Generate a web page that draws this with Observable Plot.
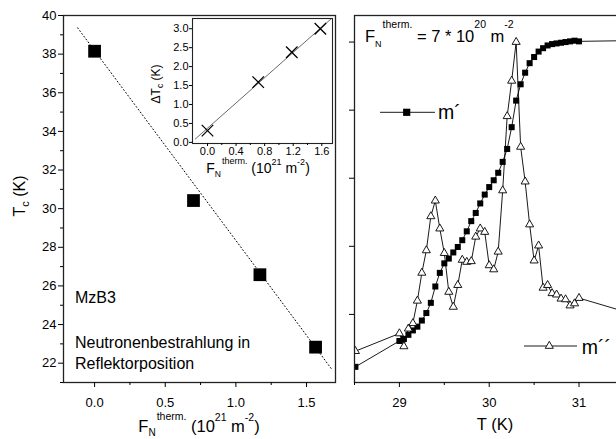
<!DOCTYPE html>
<html>
<head>
<meta charset="utf-8">
<script src="https://cdn.jsdelivr.net/npm/d3@7"></script>
<script src="https://cdn.jsdelivr.net/npm/@observablehq/plot@0.6"></script>
<style>
html, body { margin: 0; padding: 0; background: #fff; overflow: hidden; }
#wrap { position: relative; width: 616px; height: 439px; overflow: hidden; background: #fff; }
</style>
</head>
<body>
<div id="wrap"></div>
<script>
const FONT = '"Liberation Sans", Arial, Helvetica, sans-serif';

// ---------- Left panel: Tc vs thermal neutron fluence ----------
const fluence = [0, 0.70, 1.17, 1.564];
const tcValues = [38.15, 30.42, 26.58, 22.83];
const fitFluence = [-0.12, 1.68];
const fitTc = [39.36, 21.67];
const leftXTicks = [0, 0.5, 1.0, 1.5];
const leftXMinor = [0.25, 0.75, 1.25];
const leftYTicks = [22, 24, 26, 28, 30, 32, 34, 36, 38, 40];
const leftYMinor = [21, 23, 25, 27, 29, 31, 33, 35, 37, 39];

// ---------- Inset: delta Tc vs fluence ----------
const insetFluence = [0, 0.71, 1.18, 1.58];
const insetDeltaTc = [0.31, 1.59, 2.38, 3.0];
const insetFitFluence = [-0.17, 1.73];
const insetFitDelta = [0.09, 3.26];
const insetXTicks = [0, 0.4, 0.8, 1.2, 1.6];
const insetXMinor = [0.2, 0.6, 1.0, 1.4];
const insetYTicks = [0, 0.5, 1.0, 1.5, 2.0, 2.5, 3.0];

// ---------- Right panel: m' and m'' vs T ----------
const tempMp = [28.51, 29.00, 29.05, 29.10, 29.15, 29.20, 29.25, 29.30, 29.35, 29.40, 29.45,
  29.50, 29.55, 29.60, 29.65, 29.70, 29.75, 29.80, 29.85, 29.90, 29.95,
  30.00, 30.05, 30.10, 30.15, 30.20, 30.25, 30.30, 30.35, 30.40, 30.45,
  30.50, 30.55, 30.60, 30.65, 30.70, 30.75, 30.80, 30.85, 30.90, 30.95, 31.00, 32.00];
const mPrime = [0.23, 0.61, 0.64, 0.70, 0.765, 0.82, 0.91, 1.02, 1.17, 1.41, 1.61,
  1.75, 1.82, 1.91, 1.99, 2.09, 2.22, 2.37, 2.49, 2.63, 2.76,
  2.87, 2.97, 3.08, 3.24, 3.43, 3.75, 4.14, 4.38, 4.55, 4.69,
  4.78, 4.86, 4.91, 4.95, 4.97, 4.98, 4.99, 5.00, 5.01, 5.02, 5.01, 5.03];
const tempMpp = [28.51, 29.00, 29.05, 29.10, 29.15, 29.20, 29.25, 29.30, 29.35, 29.40, 29.45,
  29.50, 29.55, 29.60, 29.65, 29.70, 29.75, 29.80, 29.85, 29.90, 29.95,
  30.00, 30.05, 30.10, 30.15, 30.20, 30.25, 30.30, 30.35, 30.40, 30.45,
  30.50, 30.55, 30.60, 30.65, 30.70, 30.75, 30.80, 30.85, 30.90, 30.95, 31.00, 32.00];
const mDoublePrime = [0.46, 0.72, 0.53, 0.79, 0.87, 1.20, 1.61, 1.94, 2.44, 2.67, 2.26,
  1.90, 1.33, 1.11, 1.43, 1.80, 1.77, 1.78, 2.14, 2.26, 2.21,
  1.72, 1.66, 1.92, 2.82, 3.91, 4.43, 5.00, 3.46, 2.95, 2.32,
  1.79, 2.01, 1.39, 1.43, 1.31, 1.29, 1.23, 1.22, 1.13, 1.16, 1.24, 0.85];
const rightXTicks = [29, 30, 31];
const rightXMinor = [28.5, 29.5, 30.5, 31.5];
const rightYTicks = [1, 2, 3, 4, 5];

// ---------- build tables ----------
const tcData = fluence.map((f, i) => ({f, tc: tcValues[i]}));
const fitData = fitFluence.map((f, i) => ({f, tc: fitTc[i]}));
const insetData = insetFluence.map((f, i) => ({f, d: insetDeltaTc[i]}));
const insetFit = insetFitFluence.map((f, i) => ({f, d: insetFitDelta[i]}));
const mpData = tempMp.map((t, i) => ({t, v: mPrime[i]}));
const mppData = tempMpp.map((t, i) => ({t, v: mDoublePrime[i]}));

const wrap = document.getElementById("wrap");
const baseStyle = (left, top) => ({
  position: "absolute", left: left + "px", top: top + "px",
  background: "transparent", fontFamily: FONT, fontSize: "13px", color: "black", maxWidth: "none"
});
const fmt1 = d => d.toFixed(1);
const blank = () => "";

function richText(svg, x, y, parts, o = {}) {
  const t = d3.select(svg).append("text")
    .attr("font-family", FONT).attr("font-size", o.size || 16).attr("fill", "black")
    .attr("text-anchor", o.anchor || "start").style("white-space", "pre");
  if (o.rotate) t.attr("transform", `translate(${x},${y}) rotate(${o.rotate})`);
  else t.attr("x", x).attr("y", y);
  let cur = 0;
  for (const p of parts) {
    const [s, shift = 0, fs = null, dx = 0] = p;
    const ts = t.append("tspan").text(s);
    if (shift !== cur) ts.attr("dy", shift - cur);
    if (fs) ts.attr("font-size", fs);
    if (dx) ts.attr("dx", dx);
    cur = shift;
  }
  return t;
}

// ---------- Left plot ----------
const left = Plot.plot({
  width: 342, height: 439,
  marginLeft: 63, marginRight: 7, marginTop: 15, marginBottom: 57,
  x: {domain: [-0.22, 1.705], label: null},
  y: {domain: [21, 40], label: null},
  style: baseStyle(0, 0),
  marks: [
    Plot.line(fitData, {x: "f", y: "tc", stroke: "black", strokeWidth: 1, strokeDasharray: "1,2.5"}),
    Plot.dot(tcData, {x: "f", y: "tc", symbol: "square", r: 7.2, fill: "black", stroke: "none"}),
    Plot.frame({stroke: "#222", strokeWidth: 1.3}),
    Plot.axisX({ticks: leftXTicks, tickSize: 5, tickPadding: 10, tickFormat: fmt1, fontSize: 13, label: null}),
    Plot.axisX({ticks: leftXMinor, tickSize: 3, tickFormat: blank, label: null}),
    Plot.axisY({ticks: leftYTicks, tickSize: 5, tickPadding: 2, tickFormat: d => String(d), fontSize: 13, label: null}),
    Plot.axisY({ticks: leftYMinor, tickSize: 3, tickFormat: blank, label: null})
  ]
});
wrap.appendChild(left);

richText(left, 25, 196, [["T"], ["c", 4, 11], [" (K)", 0]], {size: 16, anchor: "middle", rotate: -90});
richText(left, 199, 432, [["F"], ["N", 4, 10], ["therm.", -12, 10.5, 1], [" (10", 0], ["21", -11, 10.5], [" m", 0], ["-2", -11, 10.5], [")", 0]], {size: 16.5, anchor: "middle"});
richText(left, 75, 303, [["MzB3"]], {size: 16});
richText(left, 75, 347.5, [["Neutronenbestrahlung in"]], {size: 16});
richText(left, 75, 369, [["Reflektorposition"]], {size: 16});

// ---------- Inset plot ----------
const inset = Plot.plot({
  width: 200, height: 185,
  marginLeft: 52, marginRight: 8, marginTop: 18, marginBottom: 42,
  x: {domain: [-0.21, 1.75], label: null},
  y: {domain: [-0.03, 3.27], label: null},
  style: baseStyle(140, 0),
  marks: [
    Plot.frame({fill: "white", stroke: "none"}),
    Plot.line(insetFit, {x: "f", y: "d", stroke: "#444", strokeWidth: 0.8, clip: true}),
    Plot.dot(insetData, {x: "f", y: "d", symbol: "times", r: 5.3, stroke: "black", strokeWidth: 1.3}),
    Plot.frame({stroke: "#222", strokeWidth: 1.1}),
    Plot.axisX({ticks: insetXTicks, tickSize: 3, tickPadding: 1, tickFormat: fmt1, fontSize: 11, label: null}),
    Plot.axisX({ticks: insetXMinor, tickSize: 2, tickFormat: blank, label: null}),
    Plot.axisY({ticks: insetYTicks, tickSize: 3, tickPadding: 1, tickFormat: fmt1, fontSize: 11, label: null})
  ]
});
wrap.appendChild(inset);
richText(inset, 20, 84, [["\u0394T"], ["c", 3, 8.5], [" (K)", 0]], {size: 12, anchor: "middle", rotate: -90});
richText(inset, 118, 173, [["F"], ["N", 3.5, 8.5], ["therm.", -9, 9, 1], [" (10", 0], ["21", -8, 9], [" m", 0], ["-2", -8, 9], [")", 0]], {size: 14, anchor: "middle"});

// ---------- Right plot ----------
const right = Plot.plot({
  width: 300, height: 439,
  marginLeft: 12, marginRight: 6, marginTop: 15, marginBottom: 57,
  x: {domain: [28.5, 31.64], label: null},
  y: {domain: [0, 5.39], label: null},
  style: baseStyle(342, 0),
  marks: [
    Plot.line(mpData, {x: "t", y: "v", stroke: "black", strokeWidth: 0.9, clip: true}),
    Plot.dot(mpData, {x: "t", y: "v", symbol: "square", r: 3.4, fill: "black", stroke: "none", clip: true}),
    Plot.line(mppData, {x: "t", y: "v", stroke: "black", strokeWidth: 0.9, clip: true}),
    Plot.dot(mppData, {x: "t", y: "v", symbol: "triangle", r: 3, fill: "white", stroke: "black", strokeWidth: 0.9, clip: true}),
    Plot.frame({stroke: "#222", strokeWidth: 1.3}),
    Plot.axisX({ticks: rightXTicks, tickSize: 5, tickPadding: 10, tickFormat: d => String(d), fontSize: 13, label: null}),
    Plot.axisX({ticks: rightXMinor, tickSize: 3, tickFormat: blank, label: null}),
    Plot.axisY({ticks: rightYTicks, tickSize: 5, tickFormat: blank, label: null})
  ]
});
wrap.appendChild(right);

richText(right, 153, 430, [["T (K)"]], {size: 16.5, anchor: "middle"});
richText(right, 23, 42, [["F"], ["N", 5, 9], ["therm.", -14, 10.5, 1], [" = 7 * 10", 0], ["20", -14, 10.5], [" m", 0], ["-2", -14, 10.5]], {size: 16.5});

// legend (drawn in the right panel's pixel space)
const rs = d3.select(right);
rs.append("line").attr("x1", 38).attr("x2", 93).attr("y1", 112.3).attr("y2", 112.3).attr("stroke", "black").attr("stroke-width", 0.9);
rs.append("rect").attr("x", 64.7 - 3.6).attr("y", 112.3 - 3.6).attr("width", 7.2).attr("height", 7.2).attr("fill", "black");
richText(right, 96, 119, [["m\u00B4"]], {size: 19.5});
rs.append("line").attr("x1", 182).attr("x2", 235).attr("y1", 346).attr("y2", 346).attr("stroke", "black").attr("stroke-width", 0.9);
rs.append("path").attr("d", d3.symbol(d3.symbolTriangle, Math.PI * 9)()).attr("transform", "translate(207.3,346)")
  .attr("fill", "white").attr("stroke", "black").attr("stroke-width", 0.9);
richText(right, 239.7, 354, [["m\u00B4\u00B4"]], {size: 19.5});
</script>
</body>
</html>
